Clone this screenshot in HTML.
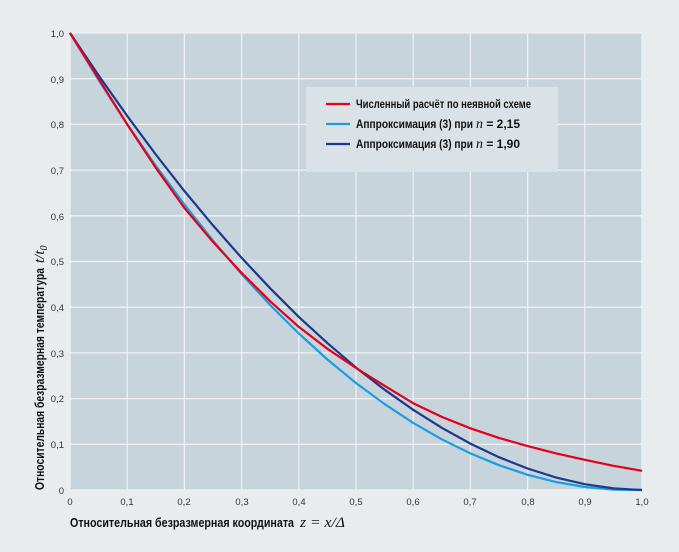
<!DOCTYPE html><html><head><meta charset="utf-8"><style>body{margin:0;background:#e8ecef}</style></head><body>
<svg width="679" height="547" xmlns="http://www.w3.org/2000/svg" font-family="Liberation Sans, sans-serif">
<rect width="679" height="547" fill="#e8ecef"/>
<rect x="70" y="33" width="572" height="457" fill="#c8d4dc"/>
<g stroke="#eef1f3" stroke-width="1.3">
<line x1="127.2" y1="33" x2="127.2" y2="490"/><line x1="184.4" y1="33" x2="184.4" y2="490"/><line x1="241.6" y1="33" x2="241.6" y2="490"/><line x1="298.8" y1="33" x2="298.8" y2="490"/><line x1="356" y1="33" x2="356" y2="490"/><line x1="413.2" y1="33" x2="413.2" y2="490"/><line x1="470.4" y1="33" x2="470.4" y2="490"/><line x1="527.6" y1="33" x2="527.6" y2="490"/><line x1="584.8" y1="33" x2="584.8" y2="490"/><line x1="642" y1="33" x2="642" y2="490"/>
<line x1="70" y1="33" x2="642" y2="33"/><line x1="70" y1="78.7" x2="642" y2="78.7"/><line x1="70" y1="124.4" x2="642" y2="124.4"/><line x1="70" y1="170.1" x2="642" y2="170.1"/><line x1="70" y1="215.8" x2="642" y2="215.8"/><line x1="70" y1="261.5" x2="642" y2="261.5"/><line x1="70" y1="307.2" x2="642" y2="307.2"/><line x1="70" y1="352.9" x2="642" y2="352.9"/><line x1="70" y1="398.6" x2="642" y2="398.6"/><line x1="70" y1="444.3" x2="642" y2="444.3"/><line x1="70" y1="490" x2="642" y2="490"/><line x1="70" y1="33" x2="70" y2="490"/>
</g>
<g font-size="9.5" fill="#333" text-anchor="end">
<text x="64" y="37">1,0</text><text x="64" y="83">0,9</text><text x="64" y="128">0,8</text><text x="64" y="174">0,7</text><text x="64" y="220">0,6</text><text x="64" y="265">0,5</text><text x="64" y="311">0,4</text><text x="64" y="357">0,3</text><text x="64" y="402">0,2</text><text x="64" y="448">0,1</text><text x="64" y="494">0</text>
</g>
<g font-size="9.5" fill="#333" text-anchor="middle">
<text x="70" y="505">0</text><text x="127" y="505">0,1</text><text x="184" y="505">0,2</text><text x="242" y="505">0,3</text><text x="299" y="505">0,4</text><text x="356" y="505">0,5</text><text x="413" y="505">0,6</text><text x="470" y="505">0,7</text><text x="528" y="505">0,8</text><text x="585" y="505">0,9</text><text x="642" y="505">1,0</text>
</g>
<text x="70" y="527" font-size="13" font-weight="bold" fill="#111" textLength="224" lengthAdjust="spacingAndGlyphs">Относительная безразмерная координата</text>
<text x="300" y="527" font-family="Liberation Serif" font-style="italic" font-size="15" fill="#111" textLength="45" lengthAdjust="spacingAndGlyphs">z = x/Δ</text>
<g transform="translate(44,490) rotate(-90)">
<text x="0" y="0" font-size="13" font-weight="bold" fill="#111" textLength="222" lengthAdjust="spacingAndGlyphs">Относительная безразмерная температура</text>
<text x="227" y="0" font-family="Liberation Serif" font-style="italic" font-size="15" fill="#111">t/t<tspan font-size="10" dy="3">0</tspan></text>
</g>
<rect x="306" y="87" width="252" height="85" fill="#dbe2e7"/>
<g stroke-width="2.2" fill="none">
<line x1="326" y1="104" x2="350" y2="104" stroke="#e3001b"/>
<line x1="326" y1="124" x2="350" y2="124" stroke="#1a9ee0"/>
<line x1="326" y1="144" x2="350" y2="144" stroke="#1b3a8c"/>
</g>
<g font-size="12" font-weight="bold" fill="#111">
<text x="356" y="108" textLength="175" lengthAdjust="spacingAndGlyphs">Численный расчёт по неявной схеме</text>
<text x="356" y="128" textLength="117" lengthAdjust="spacingAndGlyphs">Аппроксимация (3) при</text>
<text x="476" y="128"><tspan font-family="Liberation Serif" font-style="italic" font-weight="normal" font-size="14">n</tspan> = 2,15</text>
<text x="356" y="148" textLength="117" lengthAdjust="spacingAndGlyphs">Аппроксимация (3) при</text>
<text x="476" y="148"><tspan font-family="Liberation Serif" font-style="italic" font-weight="normal" font-size="14">n</tspan> = 1,90</text>
</g>
<polyline fill="none" stroke="#1a9ee0" stroke-width="2.2" points="70,33 98.6,80.1 127.2,124.3 155.8,165.8 184.4,204.5 213,240.6 241.6,274.1 270.2,305.1 298.8,333.5 327.4,359.5 356,383 384.6,404.1 413.2,422.9 441.8,439.3 470.4,453.4 499,465.2 527.6,474.8 556.2,482.1 584.8,487 613.4,489.6 642,490"/>
<polyline fill="none" stroke="#1b3a8c" stroke-width="2.2" points="70,33 98.6,75.4 127.2,115.9 155.8,154.5 184.4,191 213,225.4 241.6,257.8 270.2,288.3 298.8,316.9 327.4,343.1 356,367.6 384.6,389.7 413.2,409.8 441.8,427.8 470.4,443.6 499,457.2 527.6,468.5 556.2,477.6 584.8,484.2 613.4,488.4 642,490"/>
<polyline fill="none" stroke="#e3001b" stroke-width="2.2" stroke-linejoin="round" points="70,33 98.6,78.7 127.2,124.4 155.8,167.8 184.4,208 213,241.9 241.6,272.9 270.2,301.3 298.8,326.9 327.4,348.8 356,368 384.6,385.8 413.2,403.2 441.8,416.9 470.4,428.3 499,437.9 527.6,446.1 556.2,453.4 584.8,459.8 613.4,465.8 642,470.8"/>
</svg></body></html>
